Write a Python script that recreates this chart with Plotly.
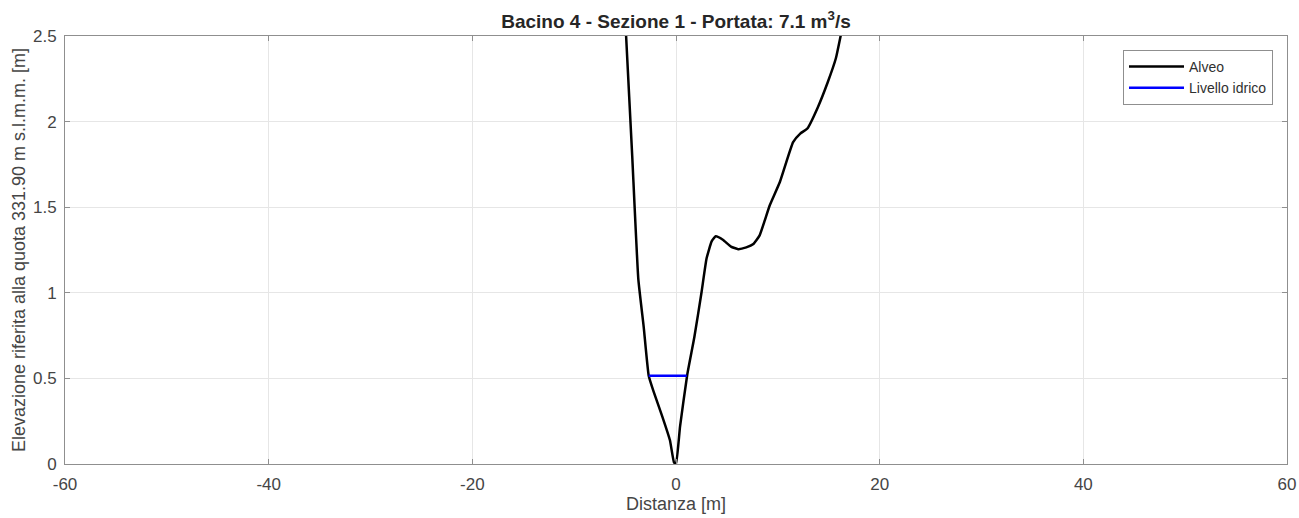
import plotly.graph_objects as go

# Bed profile (Alveo)
alveo_x = [-5.07, -4.9, -4.3, -3.7, -3.17, -2.68, -2.18, -1.36, -0.6, -0.2, 0.0,
           0.4, 1.1, 1.8, 2.5, 3.0, 3.5, 3.9, 4.6, 5.4, 6.1, 6.9, 7.6, 8.2, 8.7,
           9.2, 10.2, 11.5, 12.2, 12.9, 13.9, 14.9, 15.7, 16.2]
alveo_y = [2.7, 2.5, 1.8, 1.08, 0.80, 0.516, 0.42, 0.28, 0.14, 0.01, 0.0,
           0.22, 0.52, 0.74, 1.0, 1.2, 1.3, 1.33, 1.31, 1.27, 1.255, 1.265, 1.285, 1.334, 1.42,
           1.51, 1.647, 1.88, 1.93, 1.96, 2.08, 2.23, 2.37, 2.51]

# Water level (Livello idrico)
livello_x = [-2.68, 1.06]
livello_y = [0.516, 0.516]

title_text = "<b>Bacino 4 - Sezione 1 - Portata: 7.1 m<sup>3</sup>/s</b>"
x_label = "Distanza [m]"
y_label = "Elevazione riferita alla quota 331.90 m s.l.m.m. [m]"
x_ticks = [-60, -40, -20, 0, 20, 40, 60]
x_ticktext = ["-60", "-40", "-20", "0", "20", "40", "60"]
y_ticks = [0, 0.5, 1, 1.5, 2, 2.5]
y_ticktext = ["0", "0.5", "1", "1.5", "2", "2.5"]

FONT = "Liberation Sans, Arial, sans-serif"
TXT = "#454545"

fig = go.Figure()
fig.add_trace(go.Scatter(x=alveo_x, y=alveo_y, mode="lines", name="Alveo",
                         line=dict(color="black", width=2.5, shape="spline", smoothing=0.4)))
fig.add_trace(go.Scatter(x=livello_x, y=livello_y, mode="lines", name="Livello idrico",
                         line=dict(color="#0000ff", width=2.5)))

axis_common = dict(showgrid=True, gridcolor="#e6e6e6", gridwidth=1, automargin=False,
                   showline=True, linecolor="#8f8f8f", linewidth=1, mirror="ticks",
                   ticks="inside", ticklen=5, tickcolor="#8f8f8f", zeroline=False,
                   tickfont=dict(family=FONT, size=17, color=TXT))

fig.update_layout(
    width=1299, height=518,
    margin=dict(l=65, r=12, t=36, b=54),
    paper_bgcolor="white", plot_bgcolor="white",
    font=dict(family=FONT, size=15, color=TXT),
    title=dict(text=title_text, x=0.5, xref="paper", xanchor="center",
               y=1 - 21 / 518, yref="container", yanchor="middle",
               font=dict(family=FONT, size=19, color="#262626")),
    xaxis=dict(range=[-60, 60], tickvals=x_ticks, ticktext=x_ticktext,
               ticklabelstandoff=5,
               title=dict(text=x_label, standoff=2, font=dict(family=FONT, size=18, color=TXT)),
               **axis_common),
    yaxis=dict(range=[0, 2.5], tickvals=y_ticks, ticktext=y_ticktext,
               ticklabelstandoff=4,
               title=dict(text=y_label, standoff=2, font=dict(family=FONT, size=18, color=TXT)),
               **axis_common),
    legend=dict(x=(1273 - 65) / 1222, xanchor="right", y=1 - (50 - 36) / 428, yanchor="top",
                bgcolor="white", bordercolor="#8f8f8f", borderwidth=1,
                font=dict(family=FONT, size=14, color="#303030"),
                tracegroupgap=0, itemwidth=55),
    showlegend=True,
)

fig.write_html("out.html")
